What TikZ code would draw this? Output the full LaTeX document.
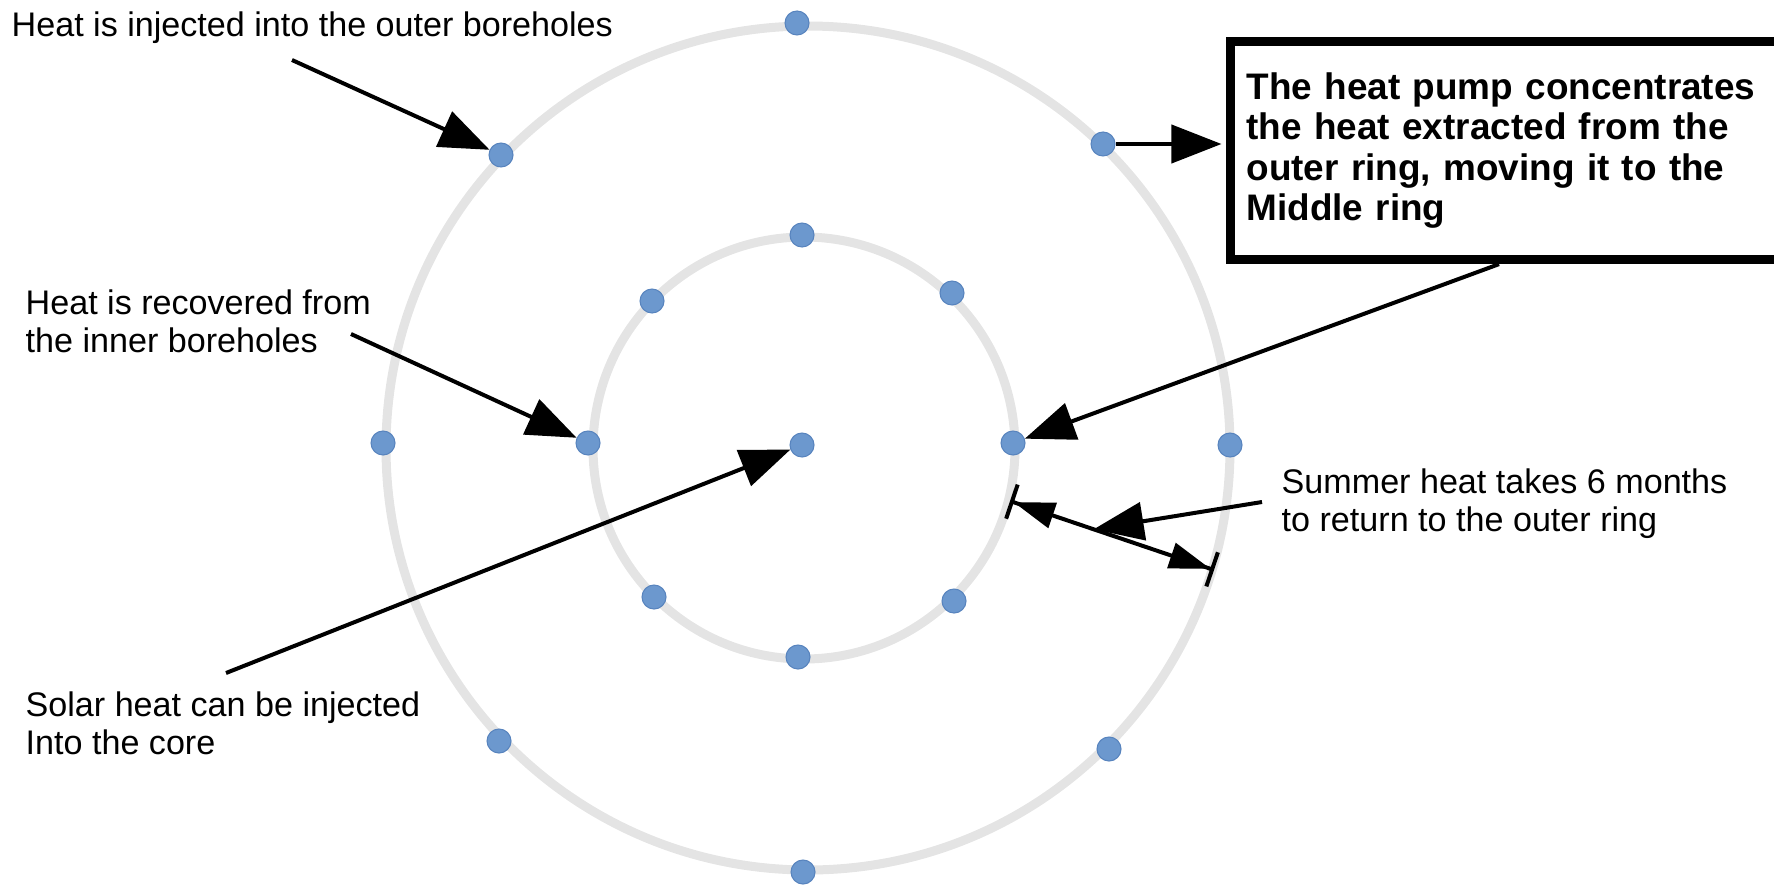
\documentclass[tikz,border=0pt]{standalone}
\usepackage{fontspec}
\setmainfont{Liberation Sans}
\usetikzlibrary{arrows.meta, calc}
\definecolor{ringgrey}{RGB}{228,228,228}
\definecolor{borefill}{RGB}{108,152,206}
\definecolor{boreedge}{RGB}{88,132,190}

\begin{document}
\begin{tikzpicture}[
    x=0.01cm, y=-0.01cm,
    ring/.style={draw=ringgrey, line width=0.09cm},
    bore/.style={circle, fill=borefill, draw=boreedge, line width=0.3pt, minimum size=0.24cm, inner sep=0pt},
    note/.style={align=left, inner sep=0pt, font=\fontsize{9.7pt}{10.8pt}\selectfont},
    pumpbox/.style={draw, line width=0.09cm, align=left, text width=6.68cm, inner xsep=0.16cm,
        minimum height=2.18cm, font=\fontsize{10.5pt}{11.4pt}\selectfont\bfseries},
    callout/.style={line width=0.04cm, -{Triangle[length=0.5cm, width=0.38cm]}},
    span/.style={line width=0.04cm,
        {Bar[width=0.36cm]Triangle[length=0.41cm, width=0.26cm]}-{Triangle[length=0.41cm, width=0.26cm]Bar[width=0.36cm]}}
]
    \clip (0,0) rectangle (1774,885);
    % Ring radii
    \def\innerr{211}
    \def\outerr{422}

    % The two rings
    \draw[ring] (804,448) circle[radius=\innerr];
    \draw[ring] (808,448) circle[radius=\outerr];

    % Boreholes: core, inner ring, outer ring
    \node[bore] (core) at (802,445) {};
    \node[bore] (i1) at (802,235) {};
    \node[bore] (i2) at (952,293) {};
    \node[bore] (i3) at (1013,443) {};
    \node[bore] (i4) at (954,601) {};
    \node[bore] (i5) at (798,657) {};
    \node[bore] (i6) at (654,597) {};
    \node[bore] (i7) at (588,443) {};
    \node[bore] (i8) at (652,301) {};
    \node[bore] (o1) at (797,23) {};
    \node[bore] (o2) at (1103,144) {};
    \node[bore] (o3) at (1230,445) {};
    \node[bore] (o4) at (1109,749) {};
    \node[bore] (o5) at (803,872) {};
    \node[bore] (o6) at (499,741) {};
    \node[bore] (o7) at (383,443) {};
    \node[bore] (o8) at (501,155) {};

    % Notes
    \node[note, anchor=base west] (injnote) at (11,37) {Heat is injected into the outer boreholes};
    \node[note, anchor=north west] (recnote) at (25,289) {Heat is recovered from\\the inner boreholes};
    \node[note, anchor=north west] (solnote) at (25,691) {Solar heat can be injected\\Into the core};
    \node[note, anchor=north west] (sumnote) at (1281,468) {Summer heat takes 6 months\\to return to the outer ring};
    \node[pumpbox, anchor=north west] (hpbox) at (1226,37)
        {The heat pump concentrates\\the heat extracted from the\\outer ring, moving it to the\\Middle ring};

    % Arrow tails
    \coordinate (injtail) at (292,60);
    \coordinate (rectail) at (351,334);
    \coordinate (soltail) at (226,673);
    \coordinate (sumtail) at (1262,502);
    \coordinate (hpfoot) at ($(hpbox.south west)+(273,0)$);
    % Width of the middle zone
    \coordinate (dimin) at (1010,501);
    \coordinate (dimout) at (1214,570);
    \coordinate (dimhit) at ($(dimin)!0.41!(dimout)$);

    % Arrows
    \draw[callout] (injtail) -- (o8);
    \draw[callout] (rectail) -- (i7);
    \draw[callout] (soltail) -- (core);
    \draw[callout] (hpfoot) -- (i3);
    \draw[callout, shorten >=0.045cm] (o2) -- (o2 -| hpbox.west);
    \draw[span] (dimin) -- (dimout);
    \draw[callout] (sumtail) -- (dimhit);
\end{tikzpicture}
\end{document}
